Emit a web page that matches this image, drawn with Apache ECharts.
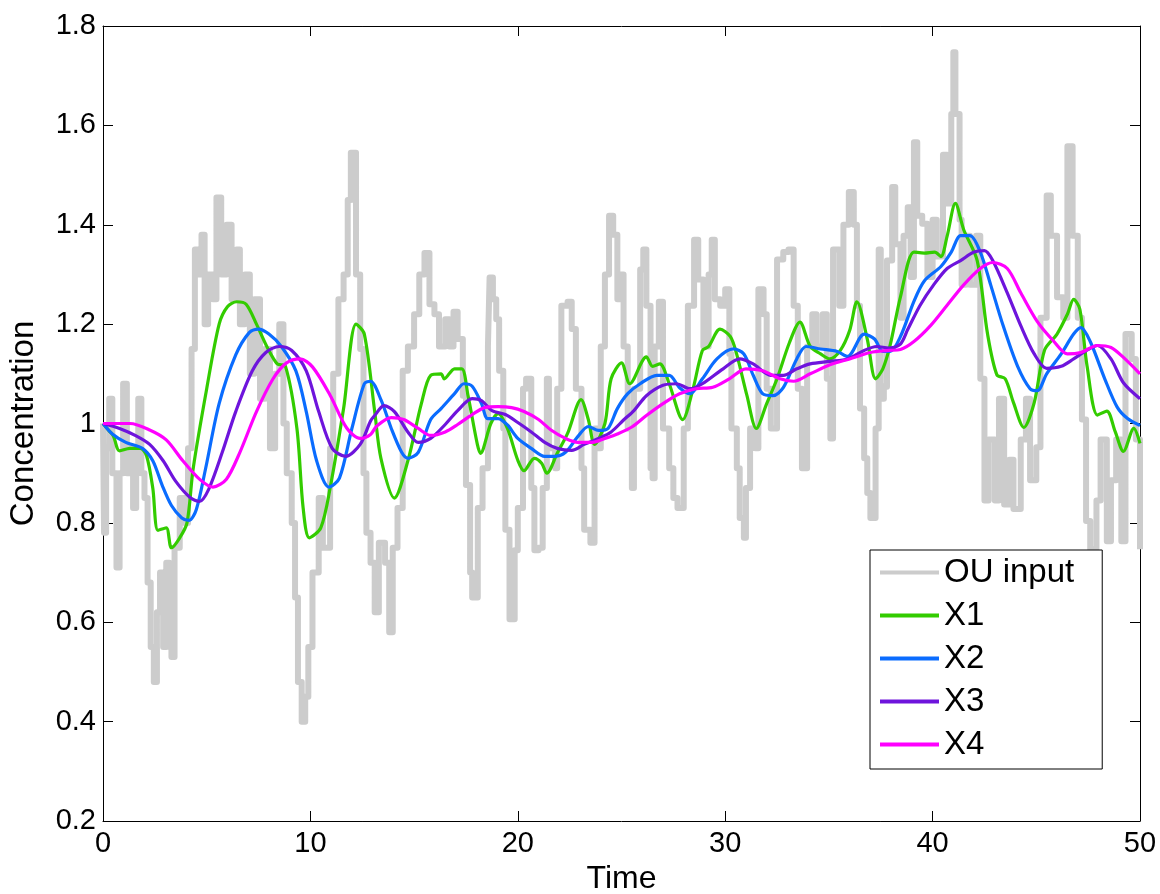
<!DOCTYPE html>
<html>
<head>
<meta charset="utf-8">
<script src="https://cdn.jsdelivr.net/npm/echarts@6/dist/echarts.min.js"></script>
<style>
html,body{margin:0;padding:0;background:#fff;}
#chart{width:1160px;height:894px;}
</style>
</head>
<body>
<div id="chart"></div>
<script>
// ---- data (time, concentration) ----
const seriesNames = ['OU input', 'X1', 'X2', 'X3', 'X4'];
const xTicks = [0, 10, 20, 30, 40, 50];
const yTicks = [0.2, 0.4, 0.6, 0.8, 1, 1.2, 1.4, 1.6, 1.8];

const ouInput = [
[0,1.0],[0.05,0.78],[0.15,0.95],[0.3,1.05],[0.45,0.9],[0.65,0.71],[0.8,0.9],[0.97,1.08],[1.15,0.9],[1.3,0.95],
[1.45,0.83],[1.6,0.92],[1.7,1.05],[1.85,0.9],[2.0,0.85],[2.15,0.68],[2.3,0.55],[2.45,0.48],[2.6,0.62],[2.75,0.7],
[2.9,0.55],[3.05,0.72],[3.2,0.65],[3.3,0.53],[3.45,0.75],[3.7,0.85],[3.95,0.8],[4.1,0.95],[4.27,1.15],[4.43,1.35],
[4.6,1.3],[4.75,1.38],[4.9,1.2],[5.07,1.3],[5.3,1.25],[5.47,1.455],[5.7,1.3],[5.96,1.4],[6.2,1.25],[6.44,1.35],
[6.6,1.2],[6.84,1.3],[7.08,1.1],[7.3,1.25],[7.57,1.05],[7.8,1.15],[8.05,0.95],[8.3,1.1],[8.5,1.2],[8.7,1.0],
[8.86,0.9],[9.1,0.8],[9.26,0.65],[9.4,0.48],[9.58,0.40],[9.75,0.45],[9.9,0.55],[10.1,0.7],[10.4,0.85],[10.6,0.75],
[10.95,0.95],[11.1,1.1],[11.35,1.25],[11.6,1.3],[11.8,1.45],[11.95,1.545],[12.2,1.3],[12.4,1.15],[12.56,0.9],[12.7,0.78],
[12.9,0.72],[13.1,0.62],[13.3,0.76],[13.6,0.72],[13.8,0.58],[13.97,0.75],[14.2,0.83],[14.45,1.106],[14.7,1.155],[15.0,1.22],
[15.25,1.30],[15.5,1.343],[15.74,1.24],[15.98,1.22],[16.2,1.155],[16.5,1.21],[16.7,1.155],[16.9,1.225],[17.1,1.17],[17.35,1.056],
[17.5,0.876],[17.7,0.70],[17.8,0.65],[18.07,0.83],[18.3,0.91],[18.56,1.155],[18.64,1.294],[18.8,1.25],[18.96,1.21],[19.1,1.106],
[19.3,0.99],[19.4,0.786],[19.6,0.606],[19.85,0.745],[20.0,0.83],[20.25,1.07],[20.4,1.09],[20.65,0.87],[20.8,0.745],[21.0,0.75],
[21.2,0.87],[21.4,1.09],[21.5,0.95],[21.8,0.91],[21.9,1.07],[22.1,1.237],[22.4,1.245],[22.6,1.19],[22.8,1.07],[23.07,0.91],
[23.2,0.786],[23.5,0.76],[23.7,0.99],[23.9,0.95],[24.0,1.155],[24.2,1.30],[24.4,1.418],[24.6,1.38],[24.8,1.25],[24.9,1.30],
[25.1,1.155],[25.3,0.99],[25.5,0.87],[25.6,1.07],[25.9,1.31],[26.05,1.35],[26.2,1.237],[26.4,0.91],[26.5,0.89],[26.6,1.155],
[26.8,1.245],[27.0,0.99],[27.3,0.91],[27.5,0.85],[27.7,0.83],[28.0,0.99],[28.2,1.237],[28.5,1.37],[28.7,1.29],[28.95,1.155],
[29.2,1.30],[29.35,1.37],[29.5,1.25],[29.76,1.237],[30.0,1.27],[30.2,1.14],[30.3,0.99],[30.56,0.91],[30.7,0.81],[30.9,0.77],
[31.0,0.87],[31.2,0.99],[31.45,0.95],[31.6,1.27],[31.85,1.22],[32.0,1.07],[32.2,0.99],[32.5,1.33],[32.8,1.345],[33.05,1.35],
[33.3,1.237],[33.5,1.07],[33.7,0.91],[33.95,1.155],[34.2,1.22],[34.4,1.155],[34.7,1.22],[34.9,1.09],[35.07,0.97],[35.2,1.35],
[35.5,1.237],[35.7,1.40],[35.96,1.466],[36.2,1.40],[36.35,1.237],[36.5,1.03],[36.7,0.93],[36.85,0.86],[37.0,0.81],[37.25,0.99],
[37.4,1.35],[37.5,1.05],[37.65,1.074],[37.8,1.328],[38.05,1.476],[38.2,1.361],[38.45,1.213],[38.6,1.378],[38.8,1.435],[38.94,1.295],
[39.1,1.566],[39.26,1.418],[39.5,1.402],[39.75,1.295],[40.0,1.41],[40.2,1.336],[40.5,1.541],[40.7,1.443],[40.9,1.623],[41.0,1.747],
[41.1,1.623],[41.3,1.41],[41.4,1.279],[41.6,1.378],[41.8,1.279],[42.1,1.378],[42.3,1.09],[42.5,0.845],[42.7,0.968],[43.0,0.845],
[43.2,1.05],[43.45,0.837],[43.7,0.927],[43.9,0.828],[44.25,0.968],[44.5,1.05],[44.7,0.886],[45.0,0.952],[45.2,1.213],[45.5,1.459],
[45.7,1.378],[46.0,1.254],[46.3,1.213],[46.5,1.558],[46.75,1.378],[47.0,1.213],[47.2,1.008],[47.4,0.804],[47.6,0.747],[47.9,0.845],
[48.1,0.968],[48.4,0.763],[48.6,0.886],[48.85,0.968],[49.1,0.763],[49.3,1.18],[49.6,1.13],[49.8,0.968],[50.0,0.747]
];

const x1 = [
[0,1.0],[0.3,0.985],[0.5,0.975],[0.8,0.945],[1.3,0.95],[1.8,0.95],[2.1,0.935],[2.4,0.87],[2.65,0.785],[3.05,0.79],
[3.3,0.75],[3.7,0.77],[4.05,0.80],[4.35,0.91],[5.0,1.07],[5.6,1.20],[6.0,1.235],[6.45,1.245],[6.9,1.24],[7.4,1.20],
[7.9,1.155],[8.4,1.12],[8.8,1.115],[9.35,0.99],[9.65,0.83],[9.95,0.77],[10.5,0.79],[10.95,0.87],[11.6,1.03],[12.2,1.20],
[12.6,1.18],[13.1,1.024],[13.4,0.93],[14.05,0.85],[14.7,0.925],[15.35,1.04],[15.8,1.097],[16.3,1.10],[16.45,1.09],[16.95,1.11],
[17.3,1.11],[17.6,1.056],[18.05,0.958],[18.2,0.94],[18.7,1.0],[19.05,1.02],[19.5,0.99],[20.0,0.926],[20.3,0.905],[20.8,0.93],
[21.15,0.92],[21.4,0.90],[21.9,0.94],[22.4,0.98],[23.05,1.048],[23.4,1.008],[23.7,0.958],[24.2,1.0],[24.5,1.09],[25.0,1.122],
[25.4,1.08],[26.2,1.134],[26.5,1.115],[26.85,1.12],[27.3,1.08],[27.95,1.008],[28.45,1.07],[28.9,1.147],[29.2,1.155],[29.75,1.19],
[30.25,1.175],[30.55,1.14],[31.05,1.056],[31.5,0.99],[32.0,1.04],[32.5,1.09],[33.1,1.163],[33.6,1.204],[34.1,1.155],[34.6,1.14],
[35.05,1.13],[35.55,1.147],[36.0,1.187],[36.35,1.245],[36.85,1.17],[37.25,1.09],[37.6,1.11],[37.95,1.157],[38.45,1.255],[39.1,1.345],
[39.6,1.343],[40.1,1.345],[40.4,1.336],[40.7,1.377],[41.1,1.443],[41.5,1.39],[42.15,1.328],[42.65,1.18],[43.1,1.098],[43.5,1.09],
[43.9,1.042],[44.4,0.992],[44.9,1.042],[45.4,1.148],[46.0,1.18],[46.5,1.22],[46.8,1.25],[47.1,1.23],[47.45,1.115],[47.95,1.017],
[48.4,1.025],[48.8,0.984],[49.2,0.944],[49.7,0.99],[50,0.96]
];

const x2 = [
[0,1.0],[0.45,0.979],[1.1,0.962],[1.9,0.95],[2.4,0.925],[2.85,0.876],[3.3,0.835],[3.8,0.81],[4.15,0.805],[4.5,0.827],
[4.95,0.91],[5.6,1.04],[6.4,1.138],[7.05,1.183],[7.5,1.19],[8.0,1.18],[8.6,1.155],[9.3,1.106],[9.8,1.024],[10.3,0.925],
[10.9,0.872],[11.4,0.89],[12.0,0.99],[12.6,1.08],[12.9,1.085],[13.4,1.048],[13.9,0.99],[14.4,0.942],[14.7,0.93],[15.2,0.942],
[15.8,1.008],[16.3,1.03],[16.95,1.06],[17.4,1.08],[17.8,1.075],[18.25,1.04],[18.55,1.01],[19.05,1.01],[19.5,0.997],[20.0,0.97],
[20.65,0.95],[21.3,0.934],[21.8,0.934],[22.3,0.942],[22.9,0.974],[23.4,0.994],[23.9,0.986],[24.35,0.99],[24.8,1.03],[25.3,1.06],
[25.9,1.08],[26.7,1.097],[27.3,1.097],[27.8,1.072],[28.3,1.06],[28.9,1.09],[29.6,1.13],[30.4,1.15],[30.9,1.14],[31.35,1.097],
[31.8,1.06],[32.3,1.056],[32.8,1.072],[33.45,1.13],[33.9,1.155],[34.6,1.15],[35.4,1.145],[35.9,1.135],[36.7,1.18],[37.2,1.17],
[37.6,1.145],[37.95,1.145],[38.45,1.175],[39.1,1.246],[39.6,1.287],[40.4,1.316],[40.9,1.345],[41.35,1.378],[41.8,1.378],[42.3,1.345],
[42.8,1.279],[43.4,1.197],[44.1,1.115],[44.7,1.07],[45.05,1.066],[45.5,1.10],[46.2,1.14],[46.8,1.18],[47.15,1.193],[47.6,1.165],
[48.3,1.09],[48.9,1.033],[49.4,1.01],[50,0.996]
];

const x3 = [
[0,1.0],[0.8,0.99],[1.6,0.975],[2.25,0.958],[2.9,0.925],[3.5,0.884],[4.2,0.851],[4.65,0.843],[5.1,0.868],[5.75,0.942],
[6.4,1.024],[7.2,1.106],[7.85,1.143],[8.5,1.155],[9.1,1.147],[9.8,1.106],[10.4,1.024],[11.05,0.95],[11.7,0.934],[12.4,0.958],
[12.9,1.005],[13.1,1.016],[13.55,1.036],[14.05,1.024],[14.7,0.983],[15.2,0.962],[15.8,0.97],[16.5,0.998],[17.1,1.026],[17.8,1.05],
[18.25,1.046],[18.75,1.026],[19.4,1.018],[20.0,1.002],[20.65,0.983],[21.3,0.962],[21.9,0.95],[22.6,0.946],[23.2,0.958],[23.9,0.97],
[24.5,0.983],[25.1,1.007],[25.6,1.026],[26.2,1.056],[27.0,1.077],[27.65,1.08],[28.3,1.07],[28.9,1.08],[29.9,1.11],[30.7,1.13],
[31.35,1.12],[32.2,1.097],[32.8,1.097],[33.45,1.11],[34.1,1.12],[35.05,1.125],[35.9,1.13],[36.7,1.147],[37.3,1.155],[37.9,1.152],
[38.45,1.16],[38.8,1.189],[39.4,1.238],[40.05,1.279],[40.7,1.312],[41.35,1.328],[42.0,1.345],[42.5,1.348],[42.9,1.328],[43.6,1.263],
[44.25,1.197],[44.9,1.14],[45.5,1.111],[46.2,1.115],[46.8,1.13],[47.5,1.149],[47.95,1.157],[48.6,1.13],[49.2,1.082],[50,1.05]
];

const x4 = [
[0,1.0],[1.3,1.0],[2.25,0.987],[3.05,0.967],[3.85,0.925],[4.65,0.888],[5.3,0.872],[5.95,0.888],[6.6,0.942],[7.4,1.024],
[8.2,1.09],[8.85,1.122],[9.5,1.13],[10.1,1.114],[10.95,1.057],[11.75,0.991],[12.4,0.97],[12.9,0.978],[13.2,0.995],[13.9,1.012],
[14.5,1.008],[15.2,0.99],[15.8,0.976],[16.5,0.983],[17.1,0.998],[17.8,1.018],[18.4,1.032],[19.05,1.034],[19.7,1.032],[20.3,1.024],
[21.0,1.008],[21.6,0.987],[22.3,0.97],[22.9,0.962],[23.6,0.962],[24.2,0.97],[24.8,0.979],[25.5,0.993],[26.2,1.016],[27.0,1.04],
[27.8,1.06],[28.6,1.07],[29.4,1.073],[30.2,1.09],[31.0,1.11],[31.8,1.106],[32.65,1.09],[33.3,1.085],[34.1,1.10],[35.05,1.118],
[36.0,1.13],[37.0,1.143],[37.9,1.147],[38.45,1.149],[39.1,1.165],[39.9,1.197],[40.7,1.238],[41.5,1.279],[42.3,1.312],[42.9,1.324],
[43.6,1.312],[44.25,1.263],[45.05,1.205],[45.85,1.165],[46.5,1.14],[47.15,1.143],[47.95,1.157],[48.6,1.153],[49.2,1.133],[50,1.10]
];

const colors = ['#cccccc', '#33cc00', '#0a6cff', '#6e14dc', '#ff00ff'];
const widths = [6, 3.2, 3.2, 3.2, 3.2];
const allData = [ouInput, x1, x2, x3, x4];

const FONT = '"Liberation Sans", Arial, Helvetica, sans-serif';

const chart = echarts.init(document.getElementById('chart'), null, {renderer: 'canvas'});

const axisLine = {show: true, onZero: false, lineStyle: {color: '#000', width: 1}};
const tick = {show: true, inside: true, length: 10, lineStyle: {color: '#000', width: 1}};

const option = {
  backgroundColor: '#ffffff',
  animation: false,
  textStyle: {fontFamily: FONT},
  grid: {left: 103, right: 20, top: 26, bottom: 73, containLabel: false, outerBoundsMode: 'none'},
  legend: {
    orient: 'vertical',
    left: 870,
    top: 550,
    padding: [6, 28, 8, 10],
    itemWidth: 59,
    itemHeight: 4,
    itemGap: 10,
    icon: 'rect',
    backgroundColor: '#ffffff',
    borderColor: '#000',
    borderWidth: 1,
    borderRadius: 0,
    textStyle: {fontFamily: FONT, fontSize: 33, color: '#000', lineHeight: 33},
    data: seriesNames
  },
  xAxis: [{
    type: 'value', position: 'bottom',
    min: xTicks[0], max: xTicks[xTicks.length - 1], interval: 10,
    name: 'Time', nameLocation: 'middle', nameGap: 41,
    nameTextStyle: {fontFamily: FONT, fontSize: 32, color: '#000'},
    axisLine: axisLine, axisTick: tick,
    axisLabel: {fontFamily: FONT, fontSize: 29, color: '#000', margin: 8},
    splitLine: {show: false}
  }, {
    type: 'value', position: 'top',
    min: xTicks[0], max: xTicks[xTicks.length - 1], interval: 10,
    axisLine: axisLine, axisTick: tick, axisLabel: {show: false}, splitLine: {show: false}
  }],
  yAxis: [{
    type: 'value', position: 'left',
    min: yTicks[0], max: yTicks[yTicks.length - 1], interval: 0.2,
    name: 'Concentration', nameLocation: 'middle', nameGap: 63, nameRotate: 90,
    nameTextStyle: {fontFamily: FONT, fontSize: 33, color: '#000'},
    axisLine: axisLine, axisTick: tick,
    axisLabel: {fontFamily: FONT, fontSize: 29, color: '#000', margin: 7,
      formatter: v => String(+v.toFixed(1))},
    splitLine: {show: false}
  }, {
    type: 'value', position: 'right',
    min: yTicks[0], max: yTicks[yTicks.length - 1], interval: 0.2,
    axisLine: axisLine, axisTick: tick, axisLabel: {show: false}, splitLine: {show: false}
  }],
  series: seriesNames.map((name, i) => ({
    name: name,
    type: 'line',
    xAxisIndex: 0, yAxisIndex: 0,
    data: allData[i],
    step: i === 0 ? 'end' : false,
    smooth: i === 0 ? false : 0.3,
    showSymbol: false,
    symbol: 'none',
    color: colors[i],
    lineStyle: {color: colors[i], width: widths[i], join: 'round'},
    z: 2 + i
  }))
};

chart.setOption(option);
</script>
</body>
</html>
